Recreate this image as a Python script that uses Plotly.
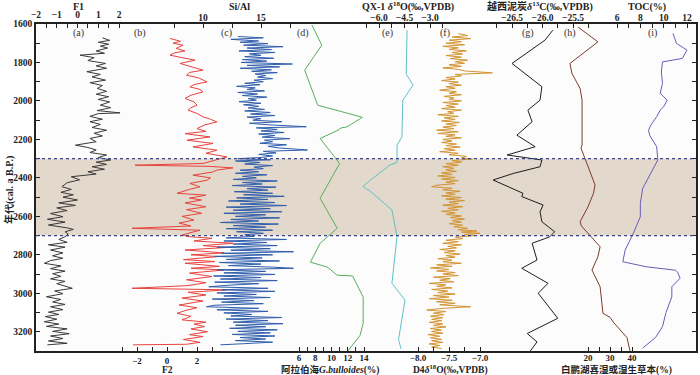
import plotly.graph_objects as go

# ---------------- data ----------------
# (a) F1 factor score
f1_age = [1672,1685,1695,1705,1715,1725,1740,1752,1762,1775,1790,1805,1818,1830,1848,1862,1875,1892,1905,1920,
          1935,1950,1965,1978,1992,2005,2022,2035,2050,2062,2066,2080,2095,2108,2122,2138,2152,2168,2182,2195,
          2212,2230,2242,2255,2268,2281,2294,2307,2318,2330,2342,2355,2368,2380,2394,2410,2425,2446,2460,2475,
          2488,2500,2515,2530,2543,2556,2570,2585,2602,2615,2630,2645,2660,2668,2680,2692,2706,2720,2735,2748,
          2760,2775,2790,2805,2818,2830,2844,2858,2872,2885,2898,2912,2925,2938,2950,2962,2974,2988,3002,3018,
          3032,3045,3058,3070,3085,3098,3110,3121,3135,3148,3160,3172,3185,3198,3210,3222,3235,3248,3260,3268]
f1_val = [1.2,1.55,1.0,1.5,1.1,1.45,0.9,1.3,0.12,0.8,0.5,1.35,0.9,1.4,0.45,1.1,0.7,1.35,0.6,1.2,
          0.95,1.4,0.9,1.5,1.0,1.55,1.1,1.6,0.95,2.05,1.0,0.6,1.2,0.6,1.1,0.7,1.4,0.8,1.2,0.6,
          0.9,-0.1,0.5,0.9,0.6,1.4,1.0,1.6,0.9,1.4,0.7,1.3,0.5,0.9,-0.3,0.1,-0.5,-0.75,-0.3,-0.8,
          -0.2,-0.7,0.0,-0.9,-0.1,-1.0,-0.5,-1.3,-0.7,-1.45,-0.6,-1.4,-0.5,-0.2,-0.6,-0.45,-0.6,-0.9,-0.5,-1.4,
          -0.6,-1.3,-0.7,-1.2,-0.7,-1.3,-1.6,-0.8,-1.3,-0.6,-1.2,-0.8,-1.3,-0.6,-1.0,-0.6,-0.25,-1.1,-0.7,-1.5,
          -0.8,-1.2,-0.6,-1.3,-0.7,-1.4,-0.9,-1.55,-1.0,-1.6,-0.9,-1.5,-0.5,-1.2,-0.4,-1.3,-0.7,-1.4,-0.5,-1.45]

# (b) F2 factor score
f2_age = [1675,1690,1700,1710,1727,1740,1750,1762,1775,1788,1805,1820,1840,1852,1866,1880,1901,1915,1927,1940,
          1953,1970,1987,2005,2022,2035,2048,2065,2083,2095,2109,2125,2144,2158,2170,2187,2204,2221,2239,2256,
          2272,2291,2310,2325,2334,2340,2348,2360,2369,2386,2400,2412,2429,2446,2462,2480,2490,2505,2515,2530,
          2550,2565,2584,2600,2619,2635,2650,2662,2672,2685,2697,2705,2714,2728,2740,2752,2762,2775,2790,2800,
          2809,2825,2835,2844,2860,2870,2879,2895,2913,2930,2945,2960,2974,2982,2995,3009,3025,3040,3061,3075,
          3090,3104,3120,3138,3150,3160,3173,3185,3200,3215,3225,3240,3255,3265,3268]
f2_val = [0.2,0.9,0.4,1.07,0.6,1.2,0.5,0.2,1.0,1.87,0.87,1.6,2.4,1.5,1.3,2.1,2.67,1.8,1.53,2.2,
          2.4,1.6,1.2,1.8,2.0,1.6,1.4,2.0,2.4,2.9,3.33,2.5,2.0,2.6,1.2,2.87,1.33,3.07,1.73,3.33,
          2.6,4.0,3.0,2.4,-2.13,2.8,4.4,3.3,3.07,1.73,2.9,2.67,1.53,2.2,1.4,0.67,2.6,1.5,2.3,1.2,
          2.6,1.3,2.3,1.0,1.8,0.8,1.6,-2.33,2.2,1.5,1.0,1.4,3.0,1.8,4.4,2.4,3.9,1.2,3.8,1.6,
          3.4,1.1,3.2,1.2,3.5,1.6,3.8,1.5,3.0,1.3,2.6,1.4,-2.33,4.0,1.4,2.6,1.0,2.4,0.8,2.0,
          1.2,0.67,1.6,1.0,2.6,1.8,2.5,1.6,2.7,1.5,2.4,1.1,2.2,1.3,-2.27]

# (c) Si/Al
sial_age = [1665,1672,1680,1688,1695,1702,1710,1718,1725,1733,1740,1748,1755,1763,1770,1778,1785,1793,1800,1808,
            1815,1823,1830,1838,1846,1853,1860,1868,1876,1884,1892,1900,1908,1916,1924,1932,1940,1948,1956,1964,
            1972,1980,1988,1996,2004,2012,2020,2028,2036,2044,2052,2060,2068,2076,2084,2092,2100,2108,2116,2124,
            2134,2140,2148,2156,2164,2172,2180,2188,2196,2204,2212,2220,2228,2236,2244,2255,2262,2270,2278,2286,
            2294,2300,2306,2312,2320,2328,2336,2344,2352,2360,2368,2376,2384,2392,2400,2408,2416,2424,2432,2440,
            2448,2456,2464,2472,2480,2488,2496,2504,2512,2520,2528,2536,2544,2552,2560,2568,2576,2584,2592,2600,
            2608,2616,2624,2632,2640,2648,2656,2664,2672,2680,2688,2696,2704,2712,2720,2728,2736,2744,2752,2760,
            2768,2776,2784,2792,2800,2808,2816,2824,2832,2840,2848,2856,2864,2870,2878,2886,2894,2902,2910,2918,
            2926,2934,2942,2950,2958,2966,2974,2982,2990,2998,3006,3014,3022,3030,3038,3046,3054,3062,3070,3078,
            3086,3094,3102,3110,3118,3126,3134,3142,3150,3158,3166,3174,3182,3190,3198,3206,3214,3222,3230,3238,
            3246,3254,3262,3268]
sial_val = [13.0,15.2,12.4,14.8,13.2,15.6,13.5,16.9,13.8,15.9,13.1,16.2,14.0,15.0,13.6,16.1,13.4,15.5,13.3,17.7,
            13.8,16.6,13.2,15.9,14.2,16.4,14.5,15.4,14.7,16.0,14.4,15.2,13.6,14.9,12.9,14.5,13.8,15.3,13.0,14.7,
            13.4,15.5,13.9,14.6,13.1,15.0,13.5,14.8,13.9,15.3,13.6,15.8,14.1,16.2,13.8,15.0,14.3,16.8,14.0,15.6,
            18.9,14.6,16.4,15.0,17.0,14.8,16.2,15.1,17.5,15.3,16.0,14.9,17.2,15.6,16.5,19.0,15.2,16.3,14.8,16.0,
            15.0,13.0,15.8,12.8,14.9,13.6,16.0,14.4,15.2,13.2,14.8,12.8,15.5,13.4,14.6,12.6,16.4,13.4,15.1,12.5,
            16.3,13.8,15.6,12.7,16.0,13.5,17.0,12.9,15.6,12.2,16.2,13.2,17.2,12.0,15.8,12.6,16.8,11.8,15.4,12.8,
            16.6,12.4,14.8,11.5,16.5,12.6,15.4,12.0,16.0,12.9,15.2,13.6,14.4,12.0,17.2,11.8,15.5,12.6,16.4,11.2,
            15.8,12.4,17.8,11.6,16.0,11.0,15.1,12.0,16.6,11.4,15.0,12.2,16.0,17.8,11.2,15.4,11.8,16.2,10.9,15.0,
            11.5,16.4,11.0,14.8,12.2,10.5,15.6,11.6,16.2,11.2,14.6,11.8,15.8,10.8,14.4,11.6,15.2,11.0,10.3,14.8,
            11.2,15.6,11.8,14.2,12.4,16.8,12.0,15.6,12.6,16.9,12.8,15.4,12.3,16.4,13.0,15.8,12.5,16.2,13.2,15.4,
            12.8,16.0,13.5,11.5]

# (d) Arabian Sea G. bulloides (%)
gb_age = [1606,1710,1840,2022,2085,2135,2140,2152,2195,2325,2506,2662,2740,2838,2864,2906,2910,3020,3155,3220,3300]
gb_val = [7.6,8.8,6.7,8.3,13.8,11.9,11.2,10.8,8.6,11.0,8.6,10.7,8.6,7.4,9.5,10.7,12.6,13.9,13.9,13.5,12.0]

# (e) QX-1 delta18O
qx_age = [1632,1860,1918,1996,2186,2230,2320,2333,2411,2445,2470,2567,2706,2948,3035,3191,3240,3290]
qx_val = [-4.35,-4.4,-4.0,-4.6,-4.65,-4.94,-4.94,-5.35,-6.5,-6.95,-6.5,-5.24,-4.94,-5.24,-4.47,-4.76,-4.85,-4.7]

# (f) D4 delta18O
d4_age = [1650,1660,1668,1676,1684,1692,1700,1708,1716,1724,1732,1740,1748,1756,1764,1772,1780,1788,1796,1804,
          1812,1820,1828,1836,1844,1854,1862,1870,1878,1886,1894,1902,1910,1918,1926,1934,1944,1952,1960,1968,
          1976,1984,1992,2000,2008,2016,2024,2032,2040,2048,2056,2064,2072,2080,2088,2096,2104,2112,2120,2128,
          2136,2144,2152,2160,2169,2176,2184,2192,2200,2208,2216,2224,2232,2240,2248,2256,2264,2272,2280,2288,
          2296,2302,2310,2318,2326,2334,2342,2350,2358,2366,2374,2382,2390,2398,2406,2414,2422,2430,2438,2446,
          2454,2462,2470,2478,2486,2494,2502,2510,2518,2526,2534,2542,2550,2558,2566,2574,2582,2590,2598,2606,
          2614,2622,2630,2638,2646,2654,2662,2670,2676,2682,2688,2694,2700,2708,2716,2724,2732,2740,2748,2756,
          2764,2772,2780,2788,2796,2804,2812,2820,2828,2836,2844,2852,2860,2868,2876,2884,2892,2900,2908,2916,
          2924,2932,2940,2948,2956,2964,2972,2980,2988,2996,3004,3012,3020,3028,3036,3044,3052,3060,3070,3078,
          3087,3095,3103,3111,3119,3127,3135,3143,3151,3159,3167,3175,3183,3191,3199,3207,3215,3223,3231,3239,
          3247,3255,3263,3271,3279,3287]
d4_val = [-7.35,-7.2,-7.45,-7.15,-7.5,-7.3,-7.55,-7.25,-7.6,-7.35,-7.5,-7.22,-7.45,-7.28,-7.55,-7.3,-7.48,-7.2,-7.4,-7.25,
          -7.5,-7.3,-7.6,-7.35,-7.25,-6.8,-7.4,-7.3,-7.55,-7.4,-7.62,-7.35,-7.5,-7.3,-7.55,-7.4,-7.65,-7.38,-7.5,-7.3,
          -7.58,-7.42,-7.5,-7.3,-7.6,-7.35,-7.55,-7.4,-7.62,-7.3,-7.52,-7.42,-7.68,-7.35,-7.58,-7.4,-7.62,-7.33,-7.55,-7.38,
          -7.6,-7.42,-7.7,-7.35,-7.68,-7.4,-7.55,-7.3,-7.6,-7.45,-7.62,-7.38,-7.55,-7.32,-7.58,-7.4,-7.65,-7.35,-7.5,-7.22,
          -7.3,-7.12,-7.45,-7.3,-7.55,-7.35,-7.6,-7.42,-7.55,-7.38,-7.62,-7.45,-7.68,-7.4,-7.62,-7.35,-7.55,-7.4,-7.7,-7.78,
          -7.45,-7.6,-7.32,-7.55,-7.4,-7.62,-7.3,-7.55,-7.25,-7.5,-7.35,-7.6,-7.28,-7.52,-7.35,-7.62,-7.4,-7.55,-7.3,-7.48,
          -7.25,-7.45,-7.3,-7.5,-7.28,-7.42,-7.2,-7.35,-7.05,-7.3,-7.0,-7.25,-7.08,-7.4,-7.28,-7.55,-7.35,-7.6,-7.3,-7.52,
          -7.38,-7.65,-7.4,-7.58,-7.32,-7.55,-7.4,-7.68,-7.45,-7.6,-7.3,-7.7,-7.45,-7.8,-7.5,-7.7,-7.4,-7.6,-7.35,-7.75,
          -7.48,-7.65,-7.42,-7.82,-7.55,-7.7,-7.45,-7.78,-7.52,-7.68,-7.4,-7.75,-7.5,-7.82,-7.45,-7.7,-7.4,-7.65,-7.15,-7.6,
          -7.86,-7.55,-7.75,-7.58,-7.8,-7.6,-7.78,-7.62,-7.82,-7.6,-7.75,-7.55,-7.8,-7.62,-7.78,-7.6,-7.84,-7.65,-7.8,-7.62,
          -7.78,-7.6,-7.82,-7.65,-7.78,-7.62]

# (g) Yuexi peat delta13C
yx_age = [1632,1684,1805,1926,1996,2048,2108,2178,2238,2281,2307,2342,2377,2411,2480,2497,2541,2576,2628,2680,
          2706,2740,2827,2870,2948,3000,3130,3209,3253,3300]
yx_val = [-25.83,-25.96,-26.5,-26.01,-26.04,-26.24,-26.17,-26.42,-26.12,-26.58,-26.01,-26.04,-26.48,-26.81,-26.32,-26.34,-25.99,-26.04,-26.01,-25.8,
          -25.88,-26.17,-26.09,-26.34,-25.91,-26.07,-25.75,-26.25,-26.09,-26.2]

# (h) Baipeng Lake wet/hygrophilous herbs (%)
bp_age = [1616,1693,1805,1857,1935,1996,2230,2245,2325,2437,2480,2550,2628,2650,2758,2810,2879,2966,3104,3125,3150,3191,3230,3300]
bp_val = [15.5,24.5,11.8,12.7,16.4,17.3,17.3,16.8,19.5,23.2,22.5,20.0,16.4,17.0,25.5,24.5,21.8,25.5,26.8,30.0,31.5,34.5,37.7,39.1]

# (i) TOC (%)
toc_age = [1649,1701,1736,1779,1797,1850,1909,1960,1996,2030,2048,2082,2126,2152,2178,2238,2307,2340,2377,2420,
           2455,2533,2602,2688,2775,2836,2862,2880,2890,2922,2966,3018,3100,3173,3230,3285]
toc_val = [10.8,11.1,12.0,11.6,9.9,9.8,9.9,9.7,10.3,10.0,9.7,9.4,8.9,8.7,8.8,9.4,9.5,9.2,8.9,8.5,
           8.2,8.0,8.0,7.4,6.7,6.5,8.5,11.0,11.2,11.4,10.7,10.7,10.2,9.9,9.3,8.2]

band = [2300, 2700]
age_ticks = list(range(1600, 3300, 100))

# ---------------- layout helpers ----------------
L, W, T, H = 36, 660, 24, 327
FIG_W, FIG_H = 700, 375
SERIF = "Liberation Serif, Noto Sans CJK SC, serif"


def span(v1, p1, v2, p2):
    s = (p2 - p1) / (v2 - v1)
    a = v1 - (p1 - L) / s
    return [a, a + W / s]


def px(p):
    return (p - L) / W


def py(p):
    return (T + H - p) / H


tickfont = dict(family=SERIF, size=9.5, color="#222", weight="bold")
tickfont_b = dict(family=SERIF, size=9, color="#222", weight="bold")

fig = go.Figure()

panels = [
    ("a", "x", f1_age, f1_val, "#3a3a3a"),
    ("b", "x2", f2_age, f2_val, "#e8433d"),
    ("c", "x3", sial_age, sial_val, "#2f5dab"),
    ("d", "x4", gb_age, gb_val, "#5aae5e"),
    ("e", "x5", qx_age, qx_val, "#62c0c8"),
    ("f", "x6", d4_age, d4_val, "#d39330"),
    ("g", "x7", yx_age, yx_val, "#1e1e1e"),
    ("h", "x8", bp_age, bp_val, "#7b3b2c"),
    ("i", "x9", toc_age, toc_val, "#6a5cb8"),
]
for name, ax, ag, vv, col in panels:
    fig.add_trace(go.Scatter(x=vv, y=ag, mode="lines", xaxis=ax, yaxis="y",
                             line=dict(color=col, width=1), showlegend=False, hoverinfo="skip"))

M = "\u2212"


def xax(rng, side, vals, texts, overlay=True, line=False):
    d = dict(range=rng, side=side, anchor="y", tickmode="array", tickvals=vals, ticktext=texts,
             ticks="inside", ticklen=4, tickwidth=1, tickcolor="#222", showgrid=False, zeroline=False,
             showline=line, linecolor="#222", linewidth=1.5,
             tickfont=tickfont if side == "top" else tickfont_b, domain=[0, 1],
             automargin=False)
    if overlay:
        d["overlaying"] = "x"
    return d


fig.update_layout(
    width=FIG_W, height=FIG_H,
    margin=dict(l=L, r=FIG_W - L - W, t=T, b=FIG_H - T - H, autoexpand=False),
    paper_bgcolor="white", plot_bgcolor="#fcfcfc",
    xaxis=xax(span(-2, 36, 2, 119), "top",
              [-2, -1.5, -1, -0.5, 0, 0.5, 1, 1.5, 2],
              [M + "2", "", M + "1", "", "0", "", "1", "", "2"], overlay=False, line=True),
    xaxis2=xax(span(-2, 137, 2, 197), "bottom",
               [-3, -2, -1, 0, 1, 2, 3],
               ["", M + "2", "", "0", "", "2", ""], line=True),
    xaxis3=xax(span(10, 203, 15, 261), "top",
               [7.5, 10, 12.5, 15, 17.5], ["", "10", "", "15", ""]),
    xaxis4=xax(span(6, 299, 14, 364), "bottom",
               [6, 7, 8, 9, 10, 11, 12, 13, 14], ["6", "", "8", "", "10", "", "12", "", "14"]),
    xaxis5=xax(span(-6, 379, -3, 430), "top",
               [-6.75, -6, -5.25, -4.5, -3.75, -3, -2.25],
               ["", M + "6.0", "", M + "4.5", "", M + "3.0", ""]),
    xaxis6=xax(span(-8, 418, -7, 480), "bottom",
               [-8, -7.75, -7.5, -7.25, -7], [M + "8.0", "", M + "7.5", "", M + "7.0"]),
    xaxis7=xax(span(-26.5, 512, -25.5, 573), "top",
               [-26.75, -26.5, -26.25, -26, -25.75, -25.5, -25.25],
               ["", M + "26.5", "", M + "26.0", "", M + "25.5", ""]),
    xaxis8=xax(span(20, 588, 40, 632), "bottom",
               [20, 25, 30, 35, 40], ["20", "", "30", "", "40"]),
    xaxis9=xax(span(6, 617, 12, 687), "top",
               [6, 7, 8, 9, 10, 11, 12], ["6", "", "8", "", "10", "", "12"]),
    yaxis=dict(range=[3300, 1600], tickmode="array", tickvals=age_ticks,
               ticktext=[str(a) if a % 200 == 0 else "" for a in age_ticks],
               ticks="inside", ticklen=4, tickwidth=1, tickcolor="#222",
               showline=True, mirror="ticks", linecolor="#222", linewidth=1.5,
               showgrid=False, zeroline=False, tickfont=tickfont, automargin=False),
)

# shaded interval and its dotted boundaries
fig.add_shape(type="rect", xref="paper", yref="y", x0=0, x1=1, y0=band[0], y1=band[1],
              fillcolor="#e2d8cb", line=dict(width=0), layer="below")
for b in band:
    fig.add_shape(type="line", xref="paper", yref="y", x0=0, x1=1, y0=b, y1=b,
                  line=dict(color="#3a4690", width=1.2, dash="dot"), layer="above")


def note(text, x, y, size=10, bold=False, color="#222", angle=0):
    f = dict(family=SERIF, size=size, color=color)
    if bold:
        f["weight"] = "bold"
    fig.add_annotation(x=px(x), y=py(y), xref="paper", yref="paper", text=text, showarrow=False,
                       xanchor="center", yanchor="middle", textangle=angle, font=f)


# panel letters
for lab, p in zip("abcdefghi", [78, 140, 227, 303, 387, 445, 528, 570, 652]):
    note(f"({lab})", p, 33, color="#333")

titles_top = [
    ("F1", 78),
    ("Si/Al", 239),
    ("QX-1 <i>δ</i><sup>18</sup>O(‰,VPDB)", 408),
    ("越西泥炭<i>δ</i><sup>13</sup>C(‰,VPDB)", 540),
    ("TOC(%)", 647),
]
titles_bot = [
    ("F2", 167),
    ("阿拉伯海<i>G.bulloides</i>(%)", 330),
    ("D4<i>δ</i><sup>18</sup>O(‰,VPDB)", 450),
    ("白鹏湖喜湿或湿生草本(%)", 616),
]
for t, p in titles_top:
    note(t, p, 6.5, bold=True)
for t, p in titles_bot:
    note(t, p, 369.5, size=9.5, bold=True)

note("年代(cal. a B.P.)", 9, 190, bold=True, angle=-90)

fig.write_html("out.html", post_script="document.body.style.margin='0px';",
               config={"displayModeBar": False})
